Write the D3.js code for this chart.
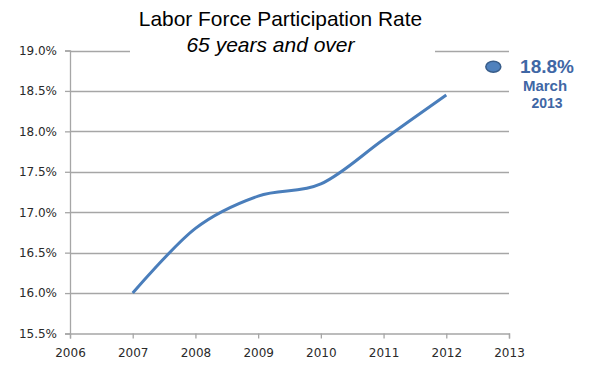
<!DOCTYPE html>
<html>
<head>
<meta charset="utf-8">
<script src="https://cdn.jsdelivr.net/npm/d3@7"></script>
<style>
  html, body { margin: 0; padding: 0; background: #fff; }
  svg { display: block; }
</style>
</head>
<body>
<svg id="chart" width="589" height="376"></svg>
<script>
const years = [2007, 2008, 2009, 2010, 2011, 2012];
const rates = [16.0, 16.8, 17.2, 17.35, 17.9, 18.45];
const latestPoint = [2012.75, 18.8];
const latestLabel = ["18.8%", "March", "2013"];
const xTicks = [2006, 2007, 2008, 2009, 2010, 2011, 2012, 2013];
const yTicks = [15.5, 16.0, 16.5, 17.0, 17.5, 18.0, 18.5, 19.0];
const titleLines = ["Labor Force Participation Rate", "65 years and over"];

const svg = d3.select("#chart");
const x = d3.scaleLinear().domain([2006, 2013]).range([70, 509]);
const y = d3.scaleLinear().domain([15.5, 19.0]).range([333.5, 50.5]);

const gridColor = "#a6a6a6";
const labelFont = "'DejaVu Sans', Verdana, sans-serif";

// gridlines
svg.append("g").selectAll("line").data(yTicks.filter(d => d > 15.5)).join("line")
  .attr("x1", x(2006)).attr("x2", x(2013))
  .attr("y1", d => Math.round(y(d)) + 0.5).attr("y2", d => Math.round(y(d)) + 0.5)
  .attr("stroke", gridColor).attr("stroke-width", 1.3);

// y axis
const yAxis = d3.axisLeft(y).tickValues(yTicks).tickSize(5).tickPadding(8)
  .tickFormat(d => d.toFixed(1) + "%");
const gy = svg.append("g").attr("transform", `translate(${x(2006)},0)`).call(yAxis);
gy.select(".domain").attr("stroke", gridColor).attr("stroke-width", 1.3);
gy.selectAll(".tick line").attr("stroke", gridColor).attr("stroke-width", 1.3);
gy.selectAll(".tick text").style("font-family", labelFont).style("font-size", "12px")
  .attr("fill", "#2a2a2a");

// x axis
const xAxis = d3.axisBottom(x).tickValues(xTicks).tickSize(5).tickPadding(10)
  .tickFormat(d3.format("d"));
const gx = svg.append("g").attr("transform", `translate(0,${y(15.5)})`).call(xAxis);
gx.select(".domain").attr("stroke", gridColor).attr("stroke-width", 1.3);
gx.selectAll(".tick line").attr("stroke", gridColor).attr("stroke-width", 1.3);
gx.selectAll(".tick text").style("font-family", labelFont).style("font-size", "12px")
  .attr("fill", "#2a2a2a");

// title box (white, hides top gridline)
svg.append("rect").attr("x", 130).attr("y", 0).attr("width", 305).attr("height", 62)
  .attr("fill", "#fff");
svg.append("text").attr("x", 280.5).attr("y", 26).attr("text-anchor", "middle")
  .attr("font-family", "'Liberation Sans', Arial, sans-serif").attr("font-size", 20.9)
  .attr("fill", "#000").text(titleLines[0]);
svg.append("text").attr("x", 270.5).attr("y", 52).attr("text-anchor", "middle")
  .attr("font-family", "'Liberation Sans', Arial, sans-serif").attr("font-size", 21)
  .attr("font-style", "italic").attr("fill", "#000").text(titleLines[1]);

// line
const data = years.map((d, i) => [d, rates[i]]);
const line = d3.line().x(d => x(d[0])).y(d => y(d[1])).curve(d3.curveCardinal.tension(0));
svg.append("path").datum(data).attr("d", line)
  .attr("fill", "none").attr("stroke", "#4a7ebb").attr("stroke-width", 3);

// latest point
svg.append("ellipse").attr("cx", x(latestPoint[0])).attr("cy", y(latestPoint[1]))
  .attr("rx", 7.5).attr("ry", 5.5)
  .attr("fill", "#4f81bd").attr("stroke", "#385d8a").attr("stroke-width", 1.5);

const annColor = "#3f67a5";
const annFont = "'Liberation Sans', Arial, sans-serif";
svg.append("text").attr("x", 547).attr("y", 73.3).attr("text-anchor", "middle")
  .attr("font-family", annFont).attr("font-weight", "bold")
  .attr("font-size", 19).attr("fill", annColor).text(latestLabel[0]);
svg.append("text").attr("x", 545).attr("y", 91).attr("text-anchor", "middle")
  .attr("font-family", annFont).attr("font-weight", "bold")
  .attr("font-size", 15).attr("fill", annColor).text(latestLabel[1]);
svg.append("text").attr("x", 547).attr("y", 107.7).attr("text-anchor", "middle")
  .attr("font-family", annFont).attr("font-weight", "bold")
  .attr("font-size", 14).attr("fill", annColor).text(latestLabel[2]);
</script>
</body>
</html>
